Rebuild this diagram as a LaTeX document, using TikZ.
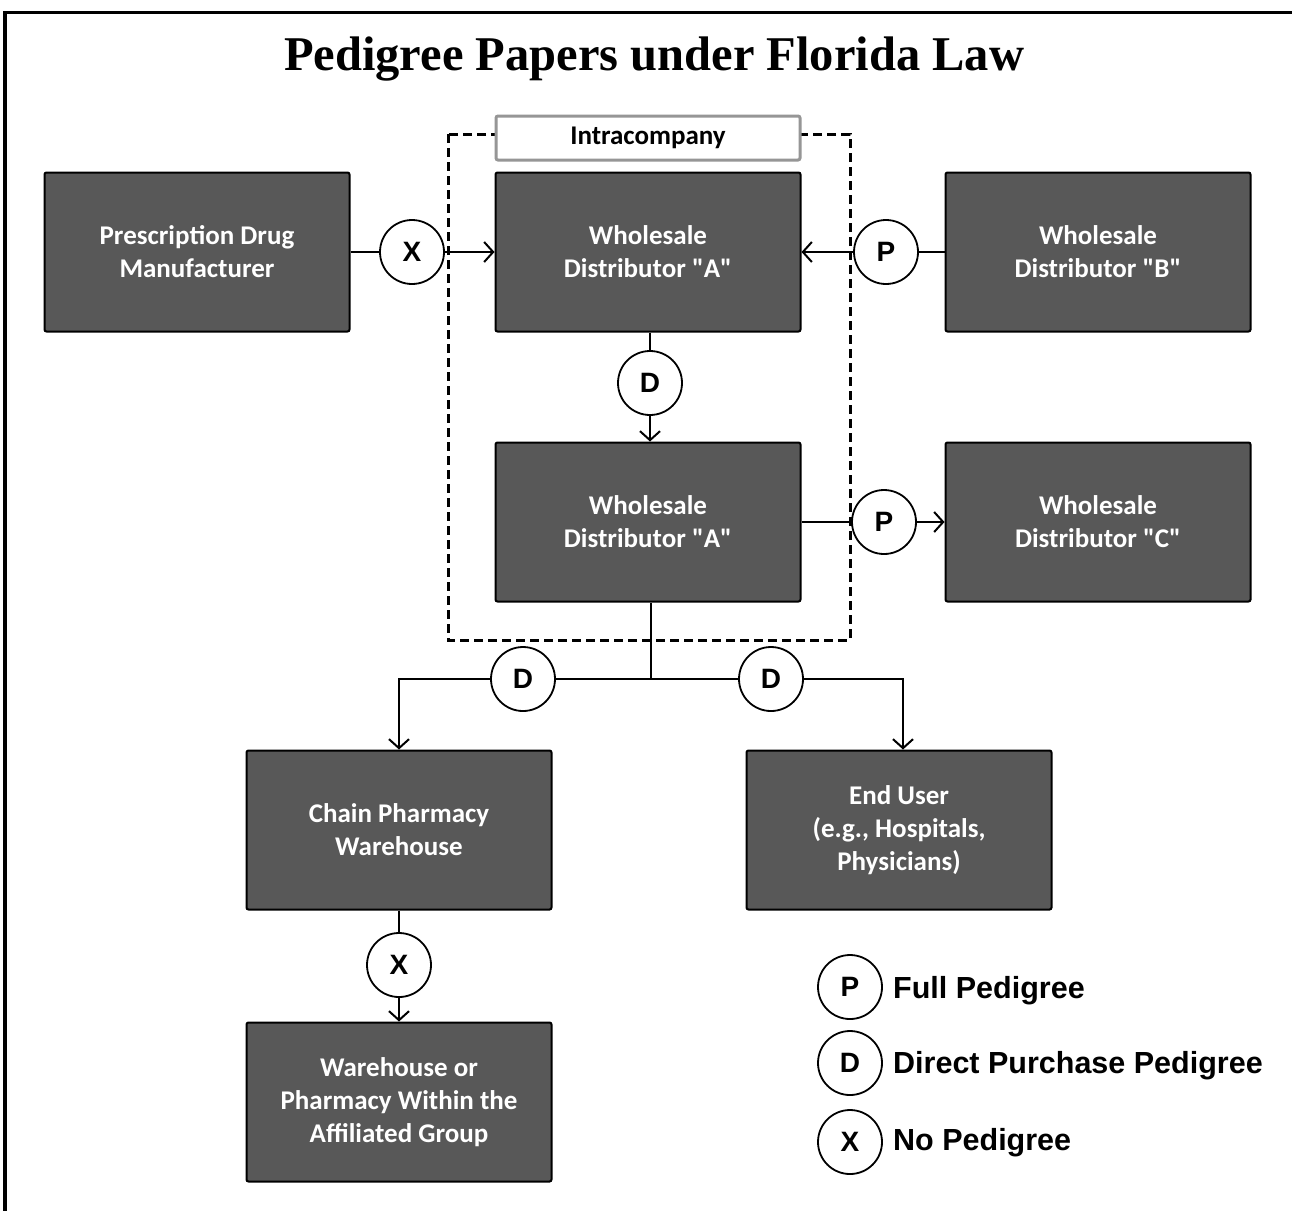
\documentclass[tikz,border=0pt]{standalone}
\usepackage{fontspec}
\setmainfont{Carlito}[Ligatures=TeXOff]
\newfontfamily\titlefont{Liberation Serif}
\newfontfamily\arialfont{Liberation Sans}
\usetikzlibrary{arrows.meta}
\definecolor{boxgray}{RGB}{88,88,88}
\definecolor{labelrim}{RGB}{150,150,150}
\tikzset{
  party/.style={draw=black, line width=2pt, fill=boxgray, rounded corners=2pt,
    minimum width=305pt, minimum height=159pt, inner sep=0pt,
    text=white, align=center, font=\bfseries\fontsize{27}{33}\selectfont},
  badge/.style={circle, draw=black, line width=1.8pt, fill=white,
    minimum size=64pt, inner sep=0pt, font=\arialfont\bfseries\fontsize{28}{28}\selectfont},
  flow/.style={line width=2pt},
  flowarrow/.style={line width=2pt, -{Straight Barb[length=9pt,width=20pt,line width=2pt]}},
  keytext/.style={anchor=base west, inner sep=0pt, font=\arialfont\bfseries\fontsize{30.5}{30.5}\selectfont}
}
\begin{document}
\begin{tikzpicture}[x=1pt,y=-1pt]
\useasboundingbox (0,0) rectangle (1292,1211);
\fill[white] (0,0) rectangle (1292,1211);

% page frame: rule along the top and the left side
\draw[line width=3pt] (3,12) -- (1292,12);
\draw[line width=4pt] (5,12) -- (5,1211);

% title
\node[anchor=base, inner sep=0pt, font=\titlefont\bfseries\fontsize{48.5}{50}\selectfont]
  (title) at (654,70) {Pedigree Papers under Florida Law};

% intracompany grouping
\draw[line width=3pt, dash pattern=on 9pt off 5pt] (448,134) rectangle (850,640);
\node[draw=labelrim, line width=3pt, fill=white, rounded corners=2pt,
      minimum width=304pt, minimum height=44pt, inner sep=0pt,
      font=\bfseries\fontsize{27}{27}\selectfont] (intra) at (648,138) {Intracompany};

% trading partners
\node[party] (mfr)   at (197,252) {Prescription Drug\\Manufacturer};
\node[party] (wdA)   at (648,252) {Wholesale\\Distributor "A"};
\node[party] (wdB)   at (1098,252) {Wholesale\\Distributor "B"};
\node[party] (wdA2)  at (648,522) {Wholesale\\Distributor "A"};
\node[party] (wdC)   at (1098,522) {Wholesale\\Distributor "C"};
\node[party] (chain) at (399,830) {Chain Pharmacy\\Warehouse};
\node[party] (user)  at (899,830) {End User\\(e.g., Hospitals,\\Physicians)};
\node[party] (affil) at (399,1102) {Warehouse or\\Pharmacy Within the\\Affiliated Group};

% pedigree badges on the transfers
\node[badge] (x1) at (412,252) {X};
\node[badge] (p1) at (886,252) {P};
\node[badge] (d1) at (650,383) {D};
\node[badge] (p2) at (884,522) {P};
\node[badge] (d2) at (523,679) {D};
\node[badge] (d3) at (771,679) {D};
\node[badge] (x2) at (399,965) {X};

% junction under the second distributor
\coordinate (fork)  at (651,679);
\coordinate (left)  at (399,679);
\coordinate (right) at (903,679);

% transfers
\draw[flow] (mfr.east) -- (x1.west);
\draw[flowarrow] (x1.east) -- (wdA.west);
\draw[flow] (wdB.west) -- (p1.east);
\draw[flowarrow] (p1.west) -- (wdA.east);
\draw[flow] (wdA.south -| d1) -- (d1.north);
\draw[flowarrow] (d1.south) -- (wdA2.north -| d1);
\draw[flow] (wdA2.east |- p2) -- (p2.west);
\draw[flowarrow] (p2.east) -- (wdC.west |- p2);
\draw[flow] (wdA2.south -| fork) -- (fork);
\draw[flow] (fork) -- (d2.east);
\draw[flowarrow] (d2.west) -- (left) -- (chain.north);
\draw[flow] (fork) -- (d3.west);
\draw[flowarrow] (d3.east) -- (right) -- (user.north -| right);
\draw[flow] (chain.south) -- (x2.north);
\draw[flowarrow] (x2.south) -- (affil.north);

% key
\node[badge] (kp) at (850,987) {P};
\node[badge] (kd) at (850,1063) {D};
\node[badge] (kx) at (850,1142) {X};
\node[keytext] (kpt) at (893,998) {Full Pedigree};
\node[keytext] (kdt) at (893,1073) {Direct Purchase Pedigree};
\node[keytext] (kxt) at (893,1150) {No Pedigree};
\end{tikzpicture}
\end{document}
